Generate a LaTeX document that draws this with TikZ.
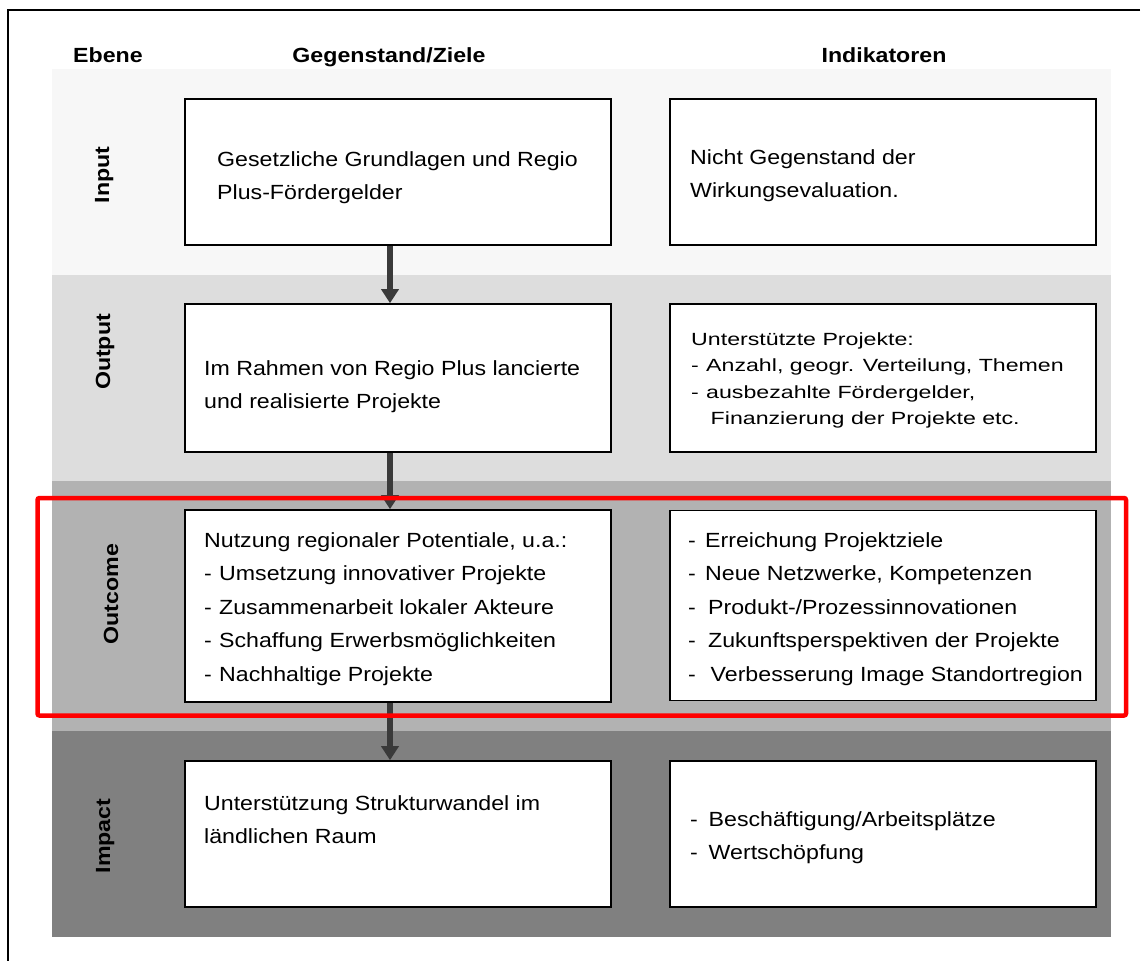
\documentclass[tikz,border=0pt]{standalone}
\usepackage{fontspec}
\setmainfont{Liberation Sans}[FakeStretch=1.13]
\usepackage{graphicx}
\usetikzlibrary{arrows.meta}
\definecolor{bandIn}{RGB}{247,247,247}
\definecolor{bandOut}{RGB}{221,221,221}
\definecolor{bandOc}{RGB}{178,178,178}
\definecolor{bandIm}{RGB}{128,128,128}
\definecolor{arrowc}{RGB}{58,58,58}
\definecolor{hlred}{RGB}{255,0,0}
\newcommand{\mylines}[1]{\begin{tabular}[t]{@{}l@{}}#1\end{tabular}}
\newcommand{\dd}[1]{\makebox[#1pt][l]{-}}
\begin{document}
\begin{tikzpicture}[x=1pt,y=-1pt,
  box/.style={draw=black, line width=1.6pt, fill=white, rectangle, inner sep=0pt, minimum width=426pt},
  txt/.style={font=\fontsize{20.5}{33.5}\selectfont, inner sep=0pt, anchor=base west},
  hdr/.style={font=\fontsize{20.5}{24}\selectfont\bfseries, inner sep=0pt, anchor=base},
  lbl/.style={font=\fontsize{20.5}{24}\selectfont\bfseries, inner sep=0pt, anchor=base, rotate=90},
  arr/.style={draw=arrowc, line width=6.5pt, -{Triangle[width=17pt,length=14pt]}},
  hl/.style={draw=hlred, line width=4.5pt, rounded corners=2pt}]
\useasboundingbox (0,0) rectangle (1145,961);
% frame
\draw[line width=1.3pt] (1140,10) -- (8,10) -- (8,961);
% bands
\fill[bandIn]  (52,69)  rectangle (1111,275);
\fill[bandOut] (52,275) rectangle (1111,481);
\fill[bandOc]  (52,481) rectangle (1111,731);
\fill[bandIm]  (52,731) rectangle (1111,937);
% headers
\node[hdr, anchor=base west] (hE) at (73,62) {Ebene};
\node[hdr] (hG) at (389,62) {Gegenstand/Ziele};
\node[hdr] (hI) at (884,62) {Indikatoren};
% level labels
\node[lbl] (lIn)  at (109,175) {Input};
\node[lbl] (lOut) at (110,352) {Output};
\node[lbl] (lOc)  at (118,594) {Outcome};
\node[lbl] (lIm)  at (110,836) {Impact};
% boxes
\node[box, minimum height=146pt] (in1)  at (398,172) {};
\node[box, minimum height=146pt] (in2)  at (883,172) {};
\node[box, minimum height=148pt] (out1) at (398,378) {};
\node[box, minimum height=148pt] (out2) at (883,378) {};
\node[box, minimum height=192pt] (oc1)  at (398,606) {};
\node[box, minimum height=190pt] (oc2)  at (883,605.5) {};
\node[box, minimum height=146pt] (im1)  at (398,834) {};
\node[box, minimum height=146pt] (im2)  at (883,834) {};
% texts
\node[txt] (tin1) at (217,166) {\mylines{Gesetzliche Grundlagen und Regio\\Plus-Fördergelder}};
\node[txt] (tin2) at (690,164) {\mylines{Nicht Gegenstand der\\Wirkungsevaluation.}};
\node[txt] (tout1) at (204,375) {\mylines{Im Rahmen von Regio Plus lancierte\\und realisierte Projekte}};
\node[txt] (tout2) at (691,345) {\scalebox{1}[0.86]{\fontsize{20.5}{31}\selectfont\mylines{Unterstützte Projekte:\\\dd{15}Anzahl, geogr. Verteilung, Themen\\\dd{15}ausbezahlte Fördergelder,\\\hspace*{19.5pt}Finanzierung der Projekte etc.}}};
\node[txt] (toc1) at (204,547) {\mylines{Nutzung regionaler Potentiale, u.a.:\\\dd{15}Umsetzung innovativer Projekte\\\dd{15}Zusammenarbeit lokaler Akteure\\\dd{15}Schaffung Erwerbsmöglichkeiten\\\dd{15}Nachhaltige Projekte}};
\node[txt] (toc2) at (688,547) {\mylines{\dd{17}Erreichung Projektziele\\\dd{17}Neue Netzwerke, Kompetenzen\\\dd{20}Produkt-/Prozessinnovationen\\\dd{20}Zukunftsperspektiven der Projekte\\\dd{22.5}Verbesserung Image Standortregion}};
\node[txt] (tim1) at (204,810) {\mylines{Unterstützung Strukturwandel im\\ländlichen Raum}};
\node[txt] (tim2) at (690,826) {\mylines{\dd{18.5}Beschäftigung/Arbeitsplätze\\\dd{18.5}Wertschöpfung}};
% arrows
\coordinate (ax) at (390,0);
\draw[arr] (ax |- in1.south) -- (ax |- out1.north);
\draw[arr] (ax |- out1.south) -- (ax |- oc1.north);
\draw[arr] (ax |- oc1.south) -- (ax |- im1.north);
% highlight
\draw[hl] (37.5,498) rectangle (1126,715.5);
\end{tikzpicture}
\end{document}
